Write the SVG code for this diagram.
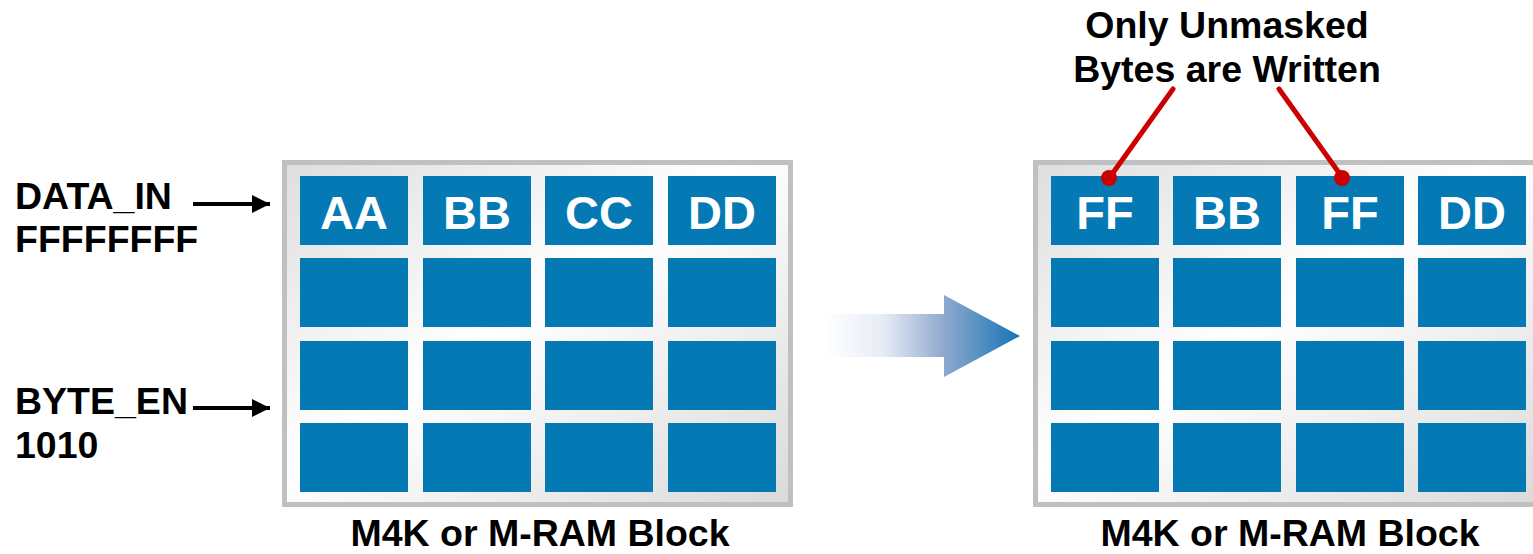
<svg xmlns="http://www.w3.org/2000/svg" width="1533" height="554" viewBox="0 0 1533 554">
  <style>
    .lbl { font-family: "Liberation Sans", Arial, sans-serif; font-weight: bold; font-size: 37.5px; fill: #000; }
    .cell { fill: #0479b4; }
    .ctxt { font-family: "Liberation Sans", Arial, sans-serif; font-weight: bold; font-size: 47px; fill: #fff; text-anchor: middle; }
    .frame { fill: #c0c0c0; }
    .red { stroke: #cc0000; stroke-width: 5; fill: none; stroke-linecap: round; }
    .dot { fill: #cc0000; }
    .inarrow { stroke: #000; stroke-width: 4; fill: none; }
  </style>
  <defs>
    <linearGradient id="inner" x1="0" y1="0" x2="1" y2="1">
      <stop offset="0" stop-color="#dedede"/>
      <stop offset="0.45" stop-color="#ffffff"/>
      <stop offset="1" stop-color="#dadada"/>
    </linearGradient>
    <linearGradient id="bigArrow" gradientUnits="userSpaceOnUse" x1="825" y1="0" x2="1020" y2="0">
      <stop offset="0" stop-color="#ffffff"/>
      <stop offset="0.3" stop-color="#e6ecf5"/>
      <stop offset="0.6" stop-color="#93abcf"/>
      <stop offset="1" stop-color="#1574b4"/>
    </linearGradient>
    <marker id="ah" markerUnits="userSpaceOnUse" markerWidth="20" markerHeight="20" refX="18" refY="10" orient="auto">
      <path d="M0,1 L18,10 L0,19 Z" fill="#000"/>
    </marker>
  </defs>

  <!-- Left block -->
  <g id="block-left">
    <rect class="frame" x="282" y="160" width="511" height="347"/>
    <rect x="287" y="165" width="501" height="337" fill="url(#inner)"/>
    <rect class="cell" x="300" y="176" width="108" height="69"/>
    <rect class="cell" x="423" y="176" width="108" height="69"/>
    <rect class="cell" x="545" y="176" width="108" height="69"/>
    <rect class="cell" x="668" y="176" width="108" height="69"/>
    <rect class="cell" x="300" y="258" width="108" height="69"/>
    <rect class="cell" x="423" y="258" width="108" height="69"/>
    <rect class="cell" x="545" y="258" width="108" height="69"/>
    <rect class="cell" x="668" y="258" width="108" height="69"/>
    <rect class="cell" x="300" y="341" width="108" height="69"/>
    <rect class="cell" x="423" y="341" width="108" height="69"/>
    <rect class="cell" x="545" y="341" width="108" height="69"/>
    <rect class="cell" x="668" y="341" width="108" height="69"/>
    <rect class="cell" x="300" y="423" width="108" height="69"/>
    <rect class="cell" x="423" y="423" width="108" height="69"/>
    <rect class="cell" x="545" y="423" width="108" height="69"/>
    <rect class="cell" x="668" y="423" width="108" height="69"/>
    <text class="ctxt" x="354" y="229">AA</text>
    <text class="ctxt" x="477" y="229">BB</text>
    <text class="ctxt" x="599" y="229">CC</text>
    <text class="ctxt" x="722" y="229">DD</text>
    <text class="lbl" x="540" y="546" text-anchor="middle">M4K or M-RAM Block</text>
  </g>

  <!-- Right block -->
  <g id="block-right">
    <rect class="frame" x="1033" y="160" width="511" height="347"/>
    <rect x="1038" y="165" width="501" height="337" fill="url(#inner)"/>
    <rect class="cell" x="1051" y="176" width="108" height="69"/>
    <rect class="cell" x="1173" y="176" width="108" height="69"/>
    <rect class="cell" x="1296" y="176" width="108" height="69"/>
    <rect class="cell" x="1418" y="176" width="108" height="69"/>
    <rect class="cell" x="1051" y="258" width="108" height="69"/>
    <rect class="cell" x="1173" y="258" width="108" height="69"/>
    <rect class="cell" x="1296" y="258" width="108" height="69"/>
    <rect class="cell" x="1418" y="258" width="108" height="69"/>
    <rect class="cell" x="1051" y="341" width="108" height="69"/>
    <rect class="cell" x="1173" y="341" width="108" height="69"/>
    <rect class="cell" x="1296" y="341" width="108" height="69"/>
    <rect class="cell" x="1418" y="341" width="108" height="69"/>
    <rect class="cell" x="1051" y="423" width="108" height="69"/>
    <rect class="cell" x="1173" y="423" width="108" height="69"/>
    <rect class="cell" x="1296" y="423" width="108" height="69"/>
    <rect class="cell" x="1418" y="423" width="108" height="69"/>
    <text class="ctxt" x="1105" y="229">FF</text>
    <text class="ctxt" x="1227" y="229">BB</text>
    <text class="ctxt" x="1350" y="229">FF</text>
    <text class="ctxt" x="1472" y="229">DD</text>
    <text class="lbl" x="1290" y="546" text-anchor="middle">M4K or M-RAM Block</text>
  </g>

  <!-- Input labels -->
  <g id="data-in">
    <text class="lbl" x="15" y="209">DATA_IN</text>
    <text class="lbl" x="15" y="252">FFFFFFFF</text>
  </g>
  <g id="byte-en">
    <text class="lbl" x="15" y="414">BYTE_EN</text>
    <text class="lbl" x="15" y="458">1010</text>
  </g>

  <!-- Callout -->
  <g id="callout">
    <text class="lbl" x="1227" y="38" text-anchor="middle">Only Unmasked</text>
    <text class="lbl" x="1227" y="82" text-anchor="middle">Bytes are Written</text>
  </g>

  <!-- Connectors -->
  <g id="connectors">
    <line class="inarrow" x1="193" y1="204" x2="270" y2="204" marker-end="url(#ah)"/>
    <line class="inarrow" x1="193" y1="408" x2="270" y2="408" marker-end="url(#ah)"/>
    <polygon points="825,314 944,314 944,295 1020,336 944,377 944,357 825,357" fill="url(#bigArrow)"/>
    <line class="red" x1="1173" y1="89" x2="1110" y2="177"/>
    <circle class="dot" cx="1109" cy="178" r="8"/>
    <line class="red" x1="1279" y1="89" x2="1342" y2="177"/>
    <circle class="dot" cx="1342" cy="178" r="8"/>
  </g>
</svg>
